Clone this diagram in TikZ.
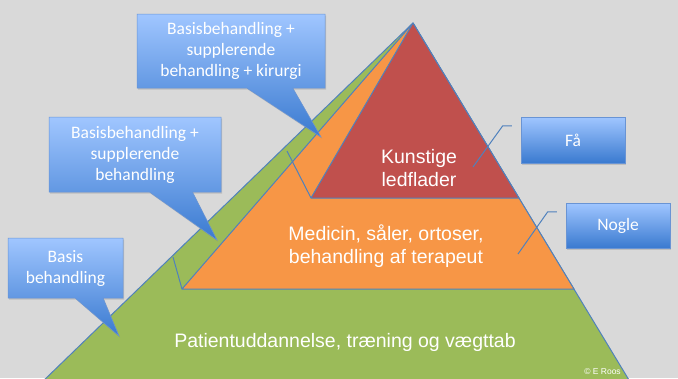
\documentclass[tikz,border=0pt]{standalone}
\usepackage{fontspec}
\setmainfont{Liberation Sans}
\newfontfamily\boksfont{Carlito}
\usetikzlibrary{shapes.callouts,shadows,calc}
\definecolor{baggrund}{RGB}{217,217,217}
\definecolor{lagGroen}{RGB}{155,187,89}
\definecolor{lagOrange}{RGB}{247,150,70}
\definecolor{lagRoed}{RGB}{192,80,77}
\definecolor{kant}{RGB}{79,129,189}
\definecolor{boksTop}{RGB}{160,198,255}
\definecolor{boksBund}{RGB}{58,122,208}
\definecolor{boksKant}{RGB}{105,148,212}

\begin{document}
\begin{tikzpicture}
[x=1pt,y=-1pt,
lag/.style = {draw=kant, line width=1pt, line join=round},
lagtekst/.style = {text=white, align=center, inner sep=0pt, font=\fontsize{19.5}{23.5}\selectfont},
boks/.style = {draw=boksKant, line width=0.5pt, top color=boksTop, bottom color=boksBund, text=white, align=center, inner sep=0pt, font=\boksfont\fontsize{17.5}{21}\selectfont, drop shadow={shadow xshift=1pt, shadow yshift=-1.5pt, opacity=0.3}},
boble/.style = {boks, rectangle callout},]
\useasboundingbox (0,0) rectangle (678,378);
\fill[baggrund] (0,0) rectangle (678,378);

% pyramiden
\coordinate (top) at (413,23);
\coordinate (gV) at (39,385);
\coordinate (gH) at (632,385);
\coordinate (oV) at (182,289);
\coordinate (oH) at (574,289);
\coordinate (rV) at (311,198);
\coordinate (rH) at (519,198);
\filldraw[lag, fill=lagGroen] (top) -- (gV) -- (gH) -- cycle;
\filldraw[lag, fill=lagOrange] (top) -- (oV) -- (oH) -- cycle;
\filldraw[lag, fill=lagRoed] (top) -- (rV) -- (rH) -- cycle;
\coordinate (oStreg) at (173,257);
\coordinate (rStreg) at (287,151);
\draw[lag] (oStreg) -- (oV);
\draw[lag] (rStreg) -- (rV);

\node[lagtekst] (groen) at (345,342) {Patientuddannelse, træning og vægttab};
\node[lagtekst] (orange) at (386,246) {Medicin, såler, ortoser,\\behandling af terapeut};
\node[lagtekst] (roed) at (419,168) {Kunstige\\ledflader};

% bobler til venstre
\coordinate (spidsA) at (321,137);
\coordinate (spidsB) at (217,240);
\coordinate (spidsC) at (119,336);
\node[boble, callout absolute pointer={(spidsA)}, callout pointer width=46pt, minimum width=188pt, minimum height=74pt] (kirurgi) at (231,51) {Basisbehandling +\\supplerende\\behandling + kirurgi};
\node[boble, callout absolute pointer={(spidsB)}, callout pointer width=43pt, minimum width=172pt, minimum height=75pt] (suppl) at (135,154.5) {Basisbehandling +\\supplerende\\behandling};
\node[boble, callout absolute pointer={(spidsC)}, callout pointer width=28pt, minimum width=115pt, minimum height=60pt] (basis) at (65.5,268) {Basis\\behandling};

% kasser til hoejre
\node[boks, minimum width=104pt, minimum height=46pt] (faa) at (573,140) {Få};
\node[boks, minimum width=104pt, minimum height=45pt] (nogle) at (618,225.5) {Nogle};
\coordinate (faaSpids) at (473,167);
\coordinate (nogleSpids) at (518,254);
\draw[lag] ($(faa.north west)+(-9,9)$) -- ++(-9,0) -- (faaSpids);
\draw[lag] ($(nogle.north west)+(-9,9)$) -- ++(-9,0) -- (nogleSpids);

\node[text=white, inner sep=0pt, font=\fontsize{8.5}{10}\selectfont] (kilde) at (602.5,372) {© E Roos};
\end{tikzpicture}
\end{document}
